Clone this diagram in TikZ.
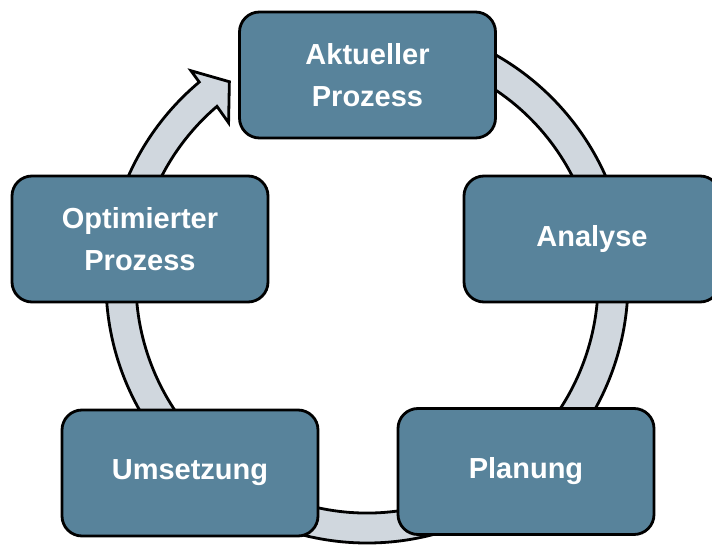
\documentclass[tikz,border=0pt]{standalone}
\usepackage{fontspec}
\setmainfont{Liberation Sans}
\usepackage{tikz}
\usetikzlibrary{calc}
\definecolor{stepblue}{HTML}{58839B}
\definecolor{ringgray}{HTML}{D0D7DE}
\tikzset{
  phase/.style={draw=black,line width=2.8pt,rounded corners=20pt,fill=stepblue,
    minimum width=256pt,minimum height=126pt,align=center,text=white,
    font=\fontsize{29}{42}\selectfont\bfseries},
  ring/.style={draw=black,line width=2.8pt,fill=ringgray}
}
\begin{document}
\begin{tikzpicture}[x=1pt,y=1pt]
\clip (0,0) rectangle (712,544);
\coordinate (c) at (367,262);
% cycle arrow behind the boxes
\draw[ring,shift={(c)}] (130:261pt) arc[start angle=130,end angle=430,radius=261pt]
  -- (430:231pt) arc[start angle=430,end angle=130.5,radius=231pt]
  -- (131:211pt) -- (124.5:243pt) -- (129.8:275pt) -- cycle;
% phases
\node[phase] (akt) at (367.5,469) {Aktueller\\Prozess};
\node[phase] (ana) at (592,305) {Analyse};
\node[phase] (plan) at (526,72.5) {Planung};
\node[phase] (ums) at (190,71) {Umsetzung};
\node[phase] (opt) at (140,305) {Optimierter\\Prozess};
\end{tikzpicture}
\end{document}
